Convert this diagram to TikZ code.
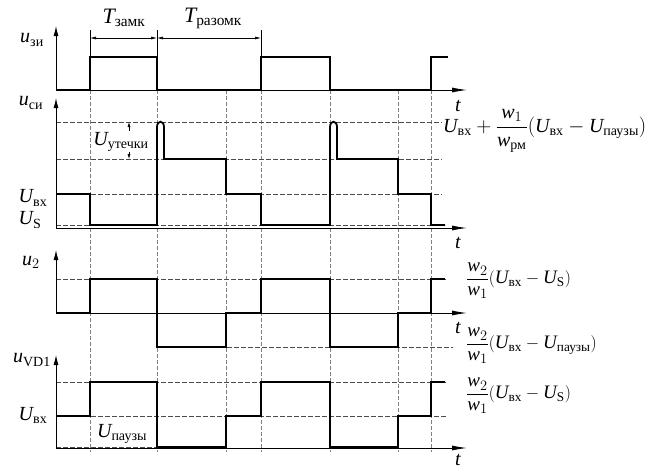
\documentclass[tikz,border=0pt]{standalone}
\usepackage{fontspec}
\setmainfont{Liberation Serif}
\usepackage{amsmath}
\usetikzlibrary{arrows.meta}

\newcommand{\Usub}[2]{\textit{#1}_{\text{#2}}}

\begin{document}
\begin{tikzpicture}[x=1pt,y=-1pt,
  every node/.style={font=\fontsize{20}{22}\selectfont,inner sep=0pt},
  formula/.style={anchor=west,font=\fontsize{19}{21}\selectfont},
  wave/.style={line width=1.8pt},
  taxis/.style={line width=0.9pt,-{Latex[length=15pt,width=5pt]}},
  uaxis/.style={line width=0.9pt,-{Latex[length=10pt,width=5pt]}},
  grid/.style={gray,line width=0.5pt,dash pattern=on 4pt off 2pt},
  level/.style={black!70,line width=0.6pt,dash pattern=on 5pt off 2pt},
  dim/.style={line width=0.6pt,{Latex[length=6pt,width=3pt]}-{Latex[length=6pt,width=3pt]}}]
  \useasboundingbox (0,0) rectangle (668,471);

  % vertical time marks
  \foreach \tx in {90,157,226,261,330,398,431}
    \draw[grid] (\tx,90) -- (\tx,452);

  % u_zi
  \draw[uaxis] (56,90) -- (56,26);
  \draw[taxis] (56,90) -- (467,90);
  \node (uzi) at (32,40) {$\Usub{u}{зи}$};
  \node (t1) at (458,106) {\textit{t}};
  \draw[wave] (56,90) -- (90,90) -- (90,57) -- (157,57) -- (157,90) -- (261,90)
    -- (261,57) -- (330,57) -- (330,90) -- (431,90) -- (431,57) -- (448,57);
  \draw[line width=0.6pt] (90,30) -- (90,57) (157,30) -- (157,57) (261,30) -- (261,57);
  \draw[dim] (90,38) -- (157,38);
  \draw[dim] (157,38) -- (261,38);
  \node[font=\fontsize{22}{24}\selectfont] (tzamk) at (124,18) {$\Usub{T}{замк}$};
  \node[font=\fontsize{22}{24}\selectfont] (trazomk) at (213,18) {$\Usub{T}{разомк}$};

  % u_si
  \draw[level] (56,122) -- (442,122);
  \draw[level] (56,159) -- (442,159);
  \draw[level] (56,194) -- (442,194);
  \draw[level] (56,225) -- (440,225);
  \draw[uaxis] (56,228) -- (56,98);
  \draw[taxis] (56,228) -- (467,228);
  \node (usi) at (31,103) {$\Usub{u}{си}$};
  \node (t2) at (458,243) {\textit{t}};
  \draw[wave] (56,194) -- (90,194) -- (90,225) -- (157,225) -- (157,127)
    .. controls (157,120) and (164,120) .. (164,127) -- (164,159) -- (226,159)
    -- (226,194) -- (261,194) -- (261,225) -- (330,225) -- (330,127)
    .. controls (330,120) and (337,120) .. (337,127) -- (337,159) -- (398,159)
    -- (398,194) -- (431,194) -- (431,225) -- (445,225);
  \node (uvx1) at (33,198) {$\Usub{U}{вх}$};
  \node (us) at (30,220) {$\Usub{U}{S}$};
  \node (uut) at (121,142) {$\Usub{U}{утечки}$};
  \draw[line width=0.6pt,-{Latex[length=5pt,width=3pt]}] (129,131) -- (129,122);
  \draw[line width=0.6pt,-{Latex[length=5pt,width=3pt]}] (129,152) -- (129,159);
  \node[formula,font=\fontsize{20}{22}\selectfont] (fsi) at (443,131)
    {$\Usub{U}{вх}+\dfrac{\textit{w}_1}{\Usub{w}{рм}}(\Usub{U}{вх}-\Usub{U}{паузы})$};

  % u_2
  \draw[level] (56,279) -- (447,279);
  \draw[level] (157,347) -- (453,347);
  \draw[uaxis] (56,313) -- (56,250);
  \draw[taxis] (56,313) -- (467,313);
  \node (u2) at (31,262) {$\textit{u}_2$};
  \node (t3) at (458,328) {\textit{t}};
  \draw[wave] (56,313) -- (90,313) -- (90,279) -- (157,279) -- (157,347) -- (226,347)
    -- (226,313) -- (261,313) -- (261,279) -- (330,279) -- (330,347) -- (398,347)
    -- (398,313) -- (431,313) -- (431,279) -- (445,279);
  \node[formula] (f2a) at (466,281)
    {$\dfrac{\textit{w}_2}{\textit{w}_1}(\Usub{U}{вх}-\Usub{U}{S})$};
  \node[formula] (f2b) at (466,346)
    {$\dfrac{\textit{w}_2}{\textit{w}_1}(\Usub{U}{вх}-\Usub{U}{паузы})$};

  % u_VD1
  \draw[level] (56,382) -- (447,382);
  \draw[level] (56,416) -- (447,416);
  \draw[level] (56,447) -- (157,447);
  \draw[uaxis] (56,448) -- (56,355);
  \draw[taxis] (56,448) -- (467,448);
  \node (uvd) at (32,360) {$\Usub{u}{VD1}$};
  \node (t4) at (458,460) {\textit{t}};
  \draw[wave] (56,416) -- (90,416) -- (90,382) -- (157,382) -- (157,447) -- (226,447)
    -- (226,416) -- (261,416) -- (261,382) -- (330,382) -- (330,447) -- (398,447)
    -- (398,416) -- (431,416) -- (431,382) -- (445,382);
  \node (uvx2) at (33,415) {$\Usub{U}{вх}$};
  \node (upauz) at (122,434) {$\Usub{U}{паузы}$};
  \node[formula] (f4) at (466,396)
    {$\dfrac{\textit{w}_2}{\textit{w}_1}(\Usub{U}{вх}-\Usub{U}{S})$};
\end{tikzpicture}
\end{document}
